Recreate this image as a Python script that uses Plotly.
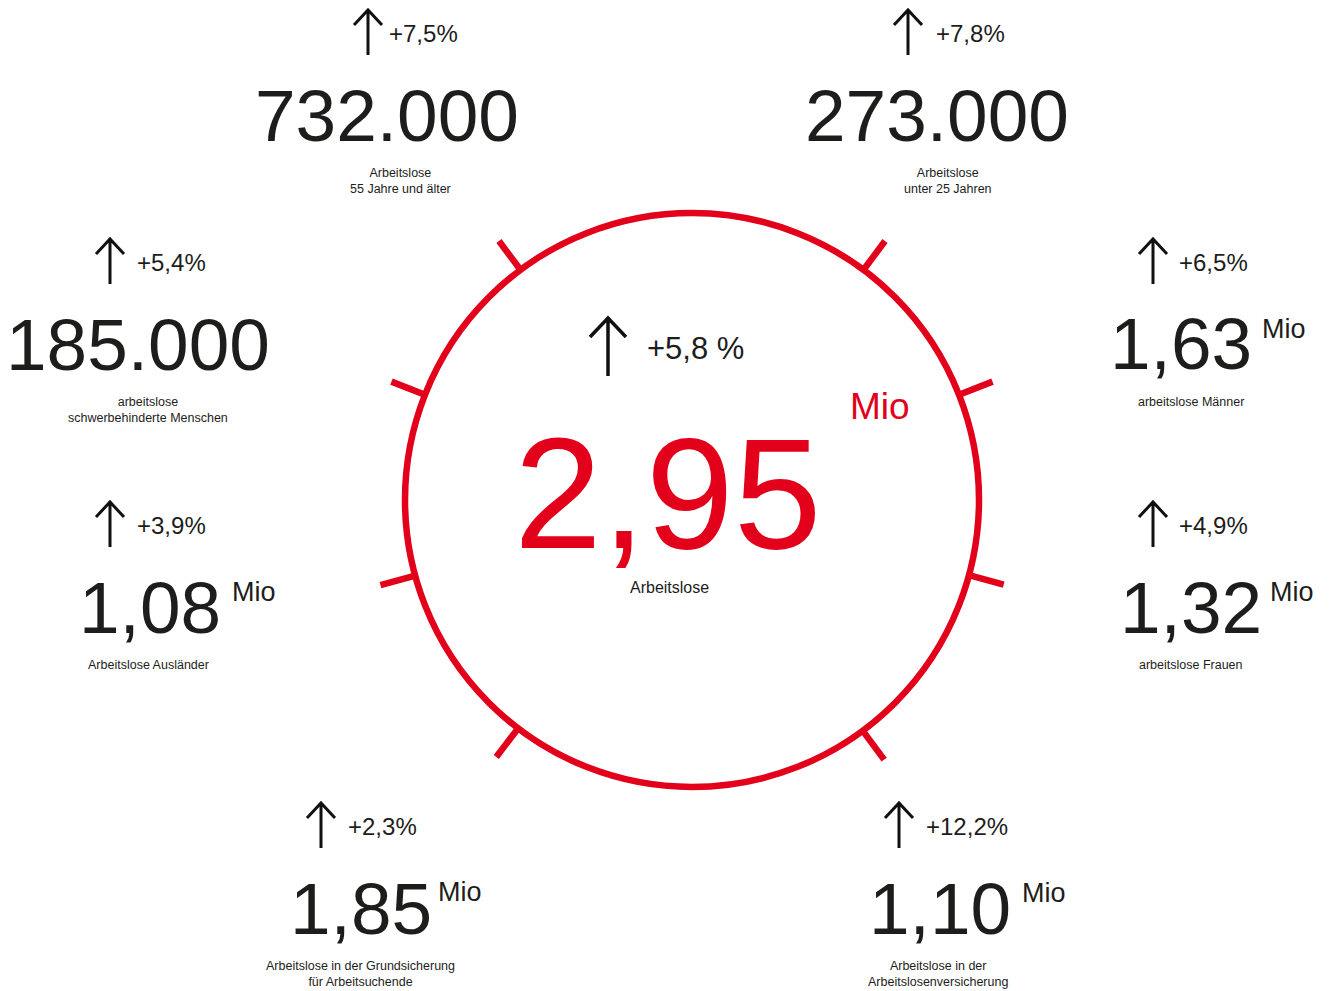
import math
import plotly.graph_objects as go

# ---------------- data ----------------
values = ["732.000", "273.000", "185.000", "1,63", "1,08", "1,32", "1,85", "1,10"]
units = ["", "", "", "Mio", "Mio", "Mio", "Mio", "Mio"]
changes = ["+7,5%", "+7,8%", "+5,4%", "+6,5%", "+3,9%", "+4,9%", "+2,3%", "+12,2%"]
labels = [
    "Arbeitslose<br>55 Jahre und älter",
    "Arbeitslose<br>unter 25 Jahren",
    "arbeitslose<br>schwerbehinderte Menschen",
    "arbeitslose Männer",
    "Arbeitslose Ausländer",
    "arbeitslose Frauen",
    "Arbeitslose in der Grundsicherung<br>für Arbeitsuchende",
    "Arbeitslose in der<br>Arbeitslosenversicherung",
]
total_value = "2,95"
total_unit = "Mio"
total_change = "+5,8 %"
total_label = "Arbeitslose"

# ---------------- layout (pixel positions) ----------------
W, H = 1330, 991
RED = "#E2001A"
INK = "#1d1d1b"
FONT = "Liberation Sans, Arial, sans-serif"

# number centre x, number cap-centre y
num_pos = [(387, 115), (937, 115), (138, 344), (1181, 343),
           (150, 607), (1191, 607), (361, 908), (940, 908)]
# unit left x, centre y
unit_pos = [None, None, None, (1260, 329), (230, 592), (1268, 592), (436, 892), (1020, 893)]
# label centre x, centre y
label_pos = [(400, 181), (948, 181), (148, 410), (1191, 402),
             (148, 665), (1191, 665), (360, 974), (938, 974)]
# change text left x, centre y
pct_pos = [(387, 33), (934, 33), (135, 262), (1177, 262),
           (135, 525), (1177, 525), (346, 826), (924, 826)]
# arrow x, top y
arrow_pos = [(368, 10), (908, 10), (110, 239), (1153, 239),
             (110, 502), (1153, 502), (321, 803), (899, 803)]

CX, CY, R = 692, 500, 287
tick_angles = [126.7, 158.5, 195.3, 232.7, 53.3, 21.5, -15.2, -53.5]
R_OUT = 323

fig = go.Figure()
# invisible trace to establish axes
fig.add_trace(go.Scatter(x=[0, W], y=[0, H], mode="markers",
                         marker=dict(opacity=0), hoverinfo="skip", showlegend=False))

shapes = []
# circle
shapes.append(dict(type="circle", xref="x", yref="y",
                   x0=CX - R, x1=CX + R, y0=CY - R, y1=CY + R,
                   line=dict(color=RED, width=6.5)))
# ticks
for a in tick_angles:
    t = math.radians(a)
    x0 = CX + (R - 2) * math.cos(t)
    y0 = CY - (R - 2) * math.sin(t)
    x1 = CX + R_OUT * math.cos(t)
    y1 = CY - R_OUT * math.sin(t)
    shapes.append(dict(type="line", xref="x", yref="y", x0=x0, y0=y0, x1=x1, y1=y1,
                       line=dict(color=RED, width=6.5)))


def arrow_path(x, top, length, hw, hh):
    return (f"M{x},{top + length} L{x},{top} "
            f"M{x - hw},{top + hh} L{x},{top} L{x + hw},{top + hh}")


for (ax, ay) in arrow_pos:
    shapes.append(dict(type="path", xref="x", yref="y",
                       path=arrow_path(ax, ay, 45, 14, 15),
                       line=dict(color="#111111", width=3)))
# central arrow
shapes.append(dict(type="path", xref="x", yref="y",
                   path=arrow_path(608, 318, 58, 18, 19),
                   line=dict(color="#111111", width=3.5)))

ann = []
for i in range(len(values)):
    nx, ny = num_pos[i]
    ann.append(dict(x=nx, y=ny, text=values[i], xanchor="center", yanchor="middle",
                    font=dict(family=FONT, size=73, color=INK)))
    if units[i]:
        ux, uy = unit_pos[i]
        ann.append(dict(x=ux, y=uy, text=units[i], xanchor="left", yanchor="middle",
                        font=dict(family=FONT, size=27, color=INK)))
    lx, ly = label_pos[i]
    ann.append(dict(x=lx, y=ly, text=labels[i], xanchor="center", yanchor="middle",
                    font=dict(family=FONT, size=12.5, color=INK)))
    px, py = pct_pos[i]
    ann.append(dict(x=px, y=py, text=changes[i], xanchor="left", yanchor="middle",
                    font=dict(family=FONT, size=24, color=INK)))

# centre
ann.append(dict(x=668, y=493, text=total_value, xanchor="center", yanchor="middle",
                font=dict(family=FONT, size=158, color=RED)))
ann.append(dict(x=848, y=406, text=total_unit, xanchor="left", yanchor="middle",
                font=dict(family=FONT, size=37, color=RED)))
ann.append(dict(x=645, y=348, text=total_change, xanchor="left", yanchor="middle",
                font=dict(family=FONT, size=31, color=INK)))
ann.append(dict(x=669, y=587, text=total_label, xanchor="center", yanchor="middle",
                font=dict(family=FONT, size=16, color=INK)))

for a in ann:
    a.update(xref="x", yref="y", showarrow=False)

fig.update_layout(
    width=W, height=H,
    margin=dict(l=0, r=0, t=0, b=0),
    paper_bgcolor="white", plot_bgcolor="white",
    xaxis=dict(range=[0, W], visible=False, fixedrange=True),
    yaxis=dict(range=[H, 0], visible=False, fixedrange=True),
    shapes=shapes, annotations=ann, showlegend=False,
)

fig.write_html("out.html", config={"displayModeBar": False},
               post_script="document.body.style.margin='0';document.body.style.overflow='hidden';")
